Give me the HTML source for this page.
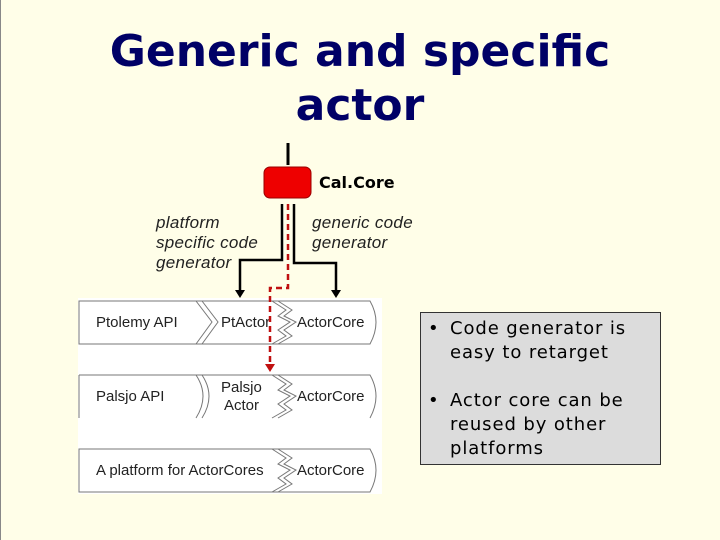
<!DOCTYPE html>
<html><head><meta charset="utf-8"><style>
html,body{margin:0;padding:0;background:#fffee8;}
</style></head><body>
<svg width="720" height="540" xmlns="http://www.w3.org/2000/svg" style="display:block">
<rect x="0" y="0" width="720" height="540" fill="#fffee8"/>
<line x1="0.5" y1="0" x2="0.5" y2="540" stroke="#888" stroke-width="1"/>
<g font-family="DejaVu Sans, sans-serif" font-weight="bold" font-size="44" fill="#000066" text-anchor="middle">
<text x="360" y="66">Generic and specific</text>
<text x="360" y="120">actor</text>
</g>
<line x1="288" y1="143" x2="288" y2="165" stroke="#000" stroke-width="3"/>
<rect x="264" y="167" width="47" height="31" rx="6" fill="#ee0000" stroke="#900" stroke-width="1"/>
<text x="319" y="188" font-family="DejaVu Sans, sans-serif" font-weight="bold" font-size="16" fill="#000">Cal.Core</text>
<path d="M282 204 V260 H240 V292" fill="none" stroke="#000" stroke-width="2.5"/>
<path d="M294 204 V263 H336 V292" fill="none" stroke="#000" stroke-width="2.5"/>
<polygon points="235,290 245,290 240,298" fill="#000"/>
<polygon points="331,290 341,290 336,298" fill="#000"/>
<g font-family="Liberation Sans, sans-serif" font-style="italic" font-size="17" fill="#222" letter-spacing="0.3">
<text x="156" y="228">platform</text>
<text x="156" y="248">specific code</text>
<text x="156" y="268">generator</text>
<text x="312" y="228">generic code</text>
<text x="312" y="248">generator</text>
</g>
<rect x="78" y="298" width="304" height="196" fill="#ffffff"/>
<g fill="#fff" stroke="#777" stroke-width="1">
<path d="M79 301 H370 Q382 322 370 344 H79 Z"/>
<path d="M79 375 H370 Q382 396 370 418"/>
<path d="M79 418 V375"/>
<path d="M79 449 H370 Q382 470 370 492 H79 Z"/>
</g>
<g fill="none" stroke="#777" stroke-width="1">
<path d="M196 301 L212 322 L196 344 M202 301 L218 322 L202 344"/>
<path d="M272 301 L286 310 L278 316 L290 322 L278 330 L286 336 L272 344 M278 301 L292 310 L284 316 L296 322 L284 330 L292 336 L278 344"/>
<path d="M196 375 Q210 396 196 418 M202 375 Q216 396 202 418"/>
<path d="M272 375 L286 384 L278 390 L290 396 L278 404 L286 410 L272 418 M278 375 L292 384 L284 390 L296 396 L284 404 L292 410 L278 418"/>
<path d="M272 449 L286 458 L278 464 L290 470 L278 478 L286 484 L272 492 M278 449 L292 458 L284 464 L296 470 L284 478 L292 484 L278 492"/>
</g>
<g font-family="Liberation Sans, sans-serif" font-size="15" fill="#222">
<text x="96" y="327">Ptolemy API</text>
<text x="221" y="327">PtActor</text>
<text x="297" y="327">ActorCore</text>
<text x="96" y="401">Palsjo API</text>
<text x="221" y="392">Palsjo</text>
<text x="224" y="410">Actor</text>
<text x="297" y="401">ActorCore</text>
<text x="96" y="475">A platform for ActorCores</text>
<text x="297" y="475">ActorCore</text>
</g>
<!-- red dashed on top -->
<path d="M288 204 V288 H270 V366" fill="none" stroke="#c01010" stroke-width="2.5" stroke-dasharray="6,4"/>
<polygon points="265,364 275,364 270,372" fill="#c01010"/>
<rect x="420.5" y="312.5" width="240" height="152" fill="#dcdcdc" stroke="#333" stroke-width="1"/>
<g font-family="DejaVu Sans, sans-serif" font-size="18" fill="#000" letter-spacing="0.9">
<text x="428" y="334">•</text>
<text x="450" y="334">Code generator is</text>
<text x="450" y="358">easy to retarget</text>
<text x="428" y="406">•</text>
<text x="450" y="406">Actor core can be</text>
<text x="450" y="430">reused by other</text>
<text x="450" y="454">platforms</text>
</g>
</svg>
</body></html>
